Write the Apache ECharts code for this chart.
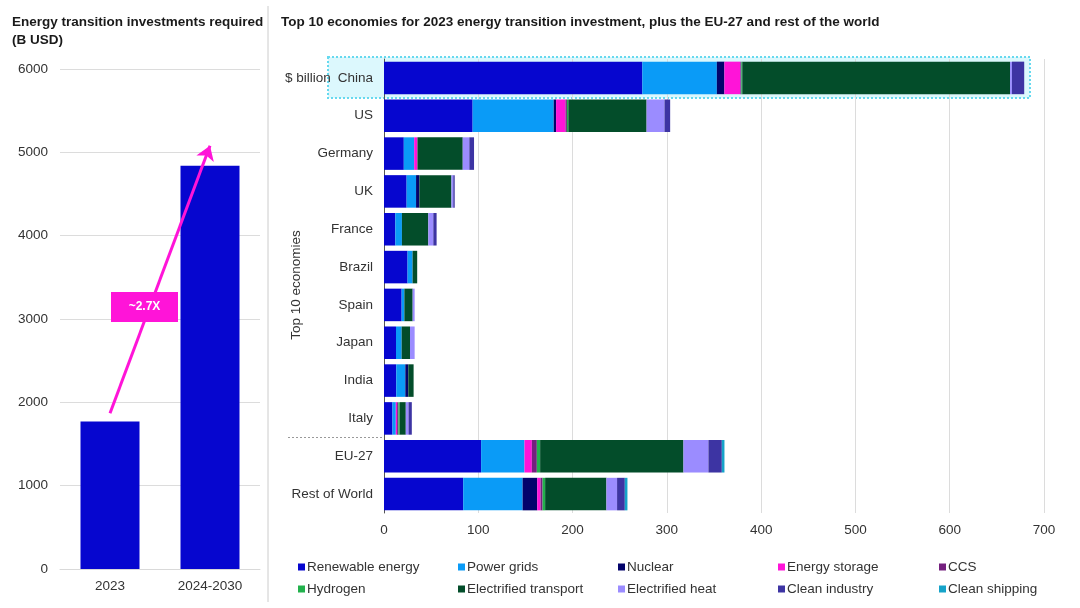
<!DOCTYPE html>
<html>
<head>
<meta charset="utf-8">
<script src="https://cdn.jsdelivr.net/npm/echarts@6/dist/echarts.min.js"></script>
<style>
html,body{margin:0;padding:0;background:#fff;}
#c{width:1080px;height:608px;}
</style>
</head>
<body>
<div id="c"></div>
<script>
// ---- Left chart data ----
const periods = ['2023', '2024-2030'];
const required = [1770, 4840];
const leftTicks = [0, 1000, 2000, 3000, 4000, 5000, 6000];

// ---- Right chart data ----
const economies = ['China', 'US', 'Germany', 'UK', 'France', 'Brazil', 'Spain', 'Japan', 'India', 'Italy', 'EU-27', 'Rest of World'];
const renewable  = [274, 94, 21, 24, 12, 25, 18.7, 12.7, 13, 9, 103, 84];
const grids      = [79, 86, 11, 10, 7, 5.3, 2.9, 6, 9.6, 3.5, 46, 63];
const nuclear    = [8, 2.5, 0, 3.5, 0, 0, 0, 0, 3.2, 0, 0, 15.5];
const storage    = [17, 10, 3.5, 0, 0, 0, 0, 0, 0, 1.4, 7.8, 3.5];
const ccs        = [1, 1.5, 0, 0, 0, 0, 0, 0, 0, 1.4, 5.3, 2.2];
const hydrogen   = [1, 1.5, 0, 0, 0, 0, 0, 0, 0, 1.4, 3.5, 2.7];
const transport  = [284, 83, 48, 34, 28, 4.9, 8.8, 8.9, 5.6, 6.4, 152, 65];
const heat       = [2, 19, 7, 2, 5.3, 0, 2.1, 4.9, 0, 2.9, 26.5, 11.3];
const industry   = [13, 6, 5, 1.5, 3.5, 0, 0, 0, 0, 3.5, 14.2, 8.2];
const shipping   = [0, 0, 0, 0, 0, 0, 0, 0, 0, 0, 2.8, 2.8];
const rightTicks = [0, 100, 200, 300, 400, 500, 600, 700];

const seriesDefs = [
  ['Renewable energy', renewable, '#0606cf'],
  ['Power grids', grids, '#0a9bf7'],
  ['Nuclear', nuclear, '#03036b'],
  ['Energy storage', storage, '#ff14d8'],
  ['CCS', ccs, '#74207e'],
  ['Hydrogen', hydrogen, '#22b14c'],
  ['Electrified transport', transport, '#034d2a'],
  ['Electrified heat', heat, '#9b8cff'],
  ['Clean industry', industry, '#3d34a3'],
  ['Clean shipping', shipping, '#16a3c9']
];

const FONT = 'Liberation Sans, Arial, sans-serif';
const TXT = '#333333';
const FS = 13.5;
const MAG = '#ff14d8';

const chart = echarts.init(document.getElementById('c'), null, {renderer: 'canvas'});

const barSeries = seriesDefs.map(([name, data, color]) => ({
  name: name,
  type: 'bar',
  stack: 'total',
  xAxisIndex: 1,
  yAxisIndex: 1,
  data: data,
  barCategoryGap: '14%',
  itemStyle: {color: color},
  emphasis: {disabled: true},
  animation: false,
  z: 5
}));

const legendCols = [
  ['Renewable energy', 'Hydrogen'],
  ['Power grids', 'Electrified transport'],
  ['Nuclear', 'Electrified heat'],
  ['Energy storage', 'Clean industry'],
  ['CCS', 'Clean shipping']
];
const legendLeft = [293, 453, 613, 773, 934];
const legends = legendCols.map((d, i) => ({
  data: d,
  orient: 'vertical',
  left: legendLeft[i],
  top: 555,
  itemWidth: 7,
  itemHeight: 7,
  itemGap: 8,
  icon: 'rect',
  selectedMode: false,
  textStyle: {fontFamily: FONT, fontSize: FS, color: TXT, padding: [0, 0, 0, -3]}
}));

const option = {
  backgroundColor: '#ffffff',
  animation: false,
  textStyle: {fontFamily: FONT},
  title: [
    {text: 'Energy transition investments required\n(B USD)', left: 7, top: 8,
     textStyle: {fontFamily: FONT, fontSize: FS, fontWeight: 'bold', color: '#1a1a1a', lineHeight: 18}},
    {text: 'Top 10 economies for 2023 energy transition investment, plus the EU-27 and rest of the world', left: 276, top: 8,
     textStyle: {fontFamily: FONT, fontSize: FS, fontWeight: 'bold', color: '#1a1a1a', lineHeight: 18}}
  ],
  legend: legends,
  grid: [
    {left: 60, top: 69, width: 200, height: 500},
    {left: 384, top: 59, width: 660, height: 454}
  ],
  xAxis: [
    {gridIndex: 0, type: 'category', data: periods,
     axisLine: {lineStyle: {color: '#d9d9d9'}}, axisTick: {show: false},
     axisLabel: {fontFamily: FONT, fontSize: FS, color: TXT, margin: 10}},
    {gridIndex: 1, type: 'value', min: 0, max: 700, interval: 100,
     axisLine: {show: false}, axisTick: {show: false},
     splitLine: {lineStyle: {color: '#dcdcdc'}},
     axisLabel: {fontFamily: FONT, fontSize: FS, color: TXT, margin: 10,
       formatter: v => rightTicks.includes(v) ? String(v) : ''}}
  ],
  yAxis: [
    {gridIndex: 0, type: 'value', min: 0, max: 6000, interval: 1000,
     axisLine: {show: false}, axisTick: {show: false},
     splitLine: {lineStyle: {color: '#dcdcdc'}},
     axisLabel: {fontFamily: FONT, fontSize: FS, color: TXT, margin: 12,
       formatter: v => leftTicks.includes(v) ? String(v) : ''}},
    {gridIndex: 1, type: 'category', data: economies, inverse: true,
     axisLine: {show: true, lineStyle: {color: '#555555'}}, axisTick: {show: false},
     axisLabel: {fontFamily: FONT, fontSize: FS, color: TXT, margin: 11}}
  ],
  series: [
    {
      name: 'Required', type: 'bar', xAxisIndex: 0, yAxisIndex: 0,
      data: required, barWidth: 59, itemStyle: {color: '#0606cf'},
      emphasis: {disabled: true},
      markLine: {
        silent: true, animation: false,
        symbol: ['none', 'arrow'], symbolSize: 14,
        label: {show: false},
        itemStyle: {color: MAG},
        lineStyle: {color: MAG, width: 3, type: 'solid'},
        data: [[{coord: [0, 1870]}, {coord: [1, 5080]}]]
      },
      z: 3
    }
  ].concat(barSeries),
  graphic: [
    {type: 'line', shape: {x1: 268, y1: 6, x2: 268, y2: 602}, style: {stroke: '#cccccc', lineWidth: 1}, silent: true},
    {type: 'rect', shape: {x: 328, y: 57, width: 702, height: 41}, z: -1,
     style: {fill: '#dcf8fd', stroke: '#66d9ef', lineWidth: 2, lineDash: [2, 2]}, silent: true},
    {type: 'text', x: 285, y: 78, style: {text: '$ billion', font: FS + 'px ' + FONT, fill: TXT, verticalAlign: 'middle'}, silent: true},
    {type: 'line', shape: {x1: 288, y1: 437.5, x2: 384, y2: 437.5}, style: {stroke: '#999999', lineWidth: 1, lineDash: [2, 2]}, silent: true},
    {type: 'text', x: 296, y: 285, rotation: Math.PI / 2,
     style: {text: 'Top 10 economies', font: FS + 'px ' + FONT, fill: TXT, align: 'center', verticalAlign: 'middle'}, silent: true},
    {type: 'rect', shape: {x: 111, y: 292, width: 67, height: 30}, z: 100,
     style: {fill: MAG}, silent: true},
    {type: 'text', x: 144.5, y: 307, z: 101,
     style: {text: '~2.7X', font: 'bold 12px ' + FONT, fill: '#ffffff', align: 'center', verticalAlign: 'middle'}, silent: true}
  ]
};

chart.setOption(option);
</script>
</body>
</html>
